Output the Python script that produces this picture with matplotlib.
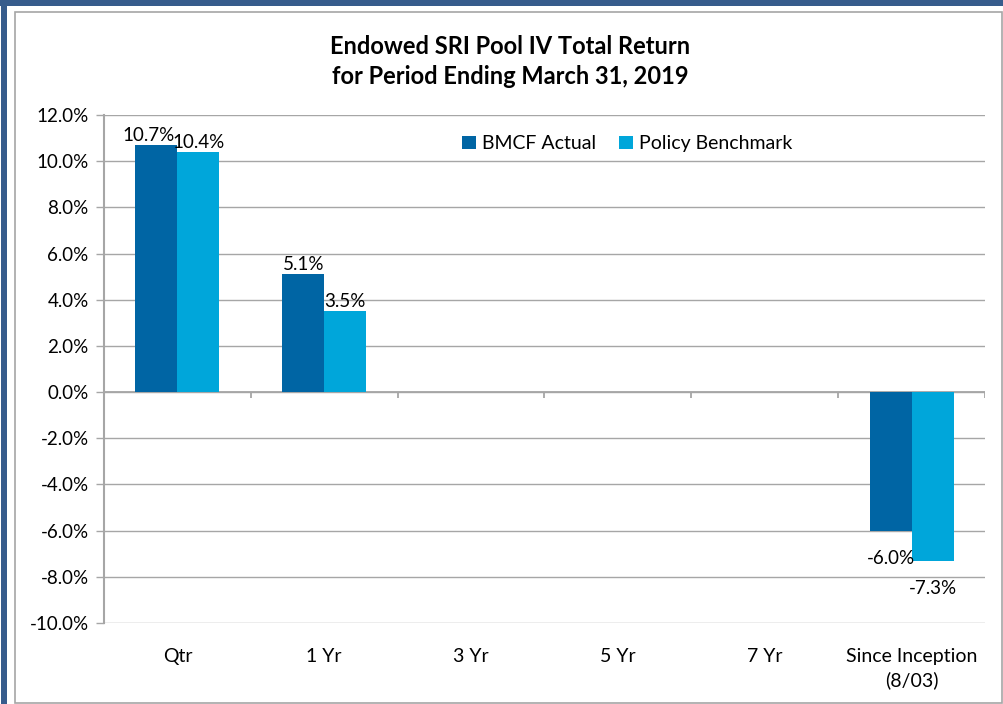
import matplotlib
matplotlib.use("Agg")
import matplotlib.pyplot as plt
from matplotlib.patches import Rectangle
import numpy as np

categories = ["Qtr", "1 Yr", "3 Yr", "5 Yr", "7 Yr", "Since Inception\n(8/03)"]
bmcf_actual = [10.7, 5.1, None, None, None, -6.0]
policy_benchmark = [10.4, 3.5, None, None, None, -7.3]
series_names = ["BMCF Actual", "Policy Benchmark"]
y_ticks = [-10, -8, -6, -4, -2, 0, 2, 4, 6, 8, 10, 12]

DARK = "#0065A4"
LIGHT = "#00A6DA"
GRID = "#A6A6A6"
FRAME = "#375C8C"

plt.rcParams["font.family"] = ["Lato", "DejaVu Sans"]

fig = plt.figure(figsize=(10.04, 7.04), dpi=100)
W, H = 1004, 704

# dark blue frame (top band + left band) and inner gray chart border
fig.patches.append(Rectangle((0, 1 - 6 / H), 1, 6 / H, transform=fig.transFigure,
                             facecolor=FRAME, edgecolor="none"))
fig.patches.append(Rectangle((1 / W, 0), 6 / W, 1, transform=fig.transFigure,
                             facecolor=FRAME, edgecolor="none"))
fig.patches.append(Rectangle((15 / W, 1 / H), 987 / W, 1 - 13 / H, transform=fig.transFigure,
                             fill=False, edgecolor=GRID, linewidth=1.2))

ax = fig.add_axes([104 / W, 81 / H, 881 / W, 508 / H])

x = np.arange(len(categories))
bw = 0.286
a_vals = np.array([np.nan if v is None else v for v in bmcf_actual])
b_vals = np.array([np.nan if v is None else v for v in policy_benchmark])
bars_a = ax.bar(x - bw / 2, a_vals, bw, color=DARK, label=series_names[0], zorder=3)
bars_b = ax.bar(x + bw / 2, b_vals, bw, color=LIGHT, label=series_names[1], zorder=3)

for i, (ra, rb) in enumerate(zip(bars_a, bars_b)):
    for j, (rect, v) in enumerate(((ra, a_vals[i]), (rb, b_vals[i]))):
        if np.isnan(v):
            continue
        cx = rect.get_x() + rect.get_width() / 2
        if v >= 0:
            # nudge the left label aside when both labels sit at the same height
            dx = -6 if (j == 0 and abs(a_vals[i] - b_vals[i]) < 1) else 0
            ax.annotate(f"{v:.1f}%", (cx, v), xytext=(dx, 1), textcoords="offset points",
                        ha="center", va="bottom", fontsize=13.5, zorder=4)
        else:
            ax.annotate(f"{v:.1f}%", (cx, v), xytext=(0, -14), textcoords="offset points",
                        ha="center", va="top", fontsize=13.5, zorder=4)

ax.set_xlim(-0.5, len(categories) - 0.5)
ax.set_ylim(-10, 12)
ax.set_yticks(y_ticks)
ax.set_yticklabels([f"{t:.1f}%" for t in y_ticks], fontsize=13.5)
ax.yaxis.grid(True, color=GRID, linewidth=1, zorder=0)
ax.set_axisbelow(True)

ax.set_xticks(x)
ax.set_xticklabels(categories, fontsize=14, linespacing=1.45)
ax.tick_params(axis="x", length=0, pad=18)
ax.tick_params(axis="y", length=6, color=GRID, width=1, pad=5)

for side in ("top", "right", "bottom"):
    ax.spines[side].set_visible(False)
ax.spines["left"].set_color(GRID)
ax.spines["left"].set_linewidth(1.5)

# category axis drawn at zero, with tick marks between categories
ax.axhline(0, color=GRID, linewidth=1.3, zorder=2)
ax.vlines(x + 0.5, -0.25, 0, color=GRID, linewidth=1.3, zorder=2)

ax.legend(loc="center", bbox_to_anchor=(0.594, 0.943), ncol=2, frameon=False,
          fontsize=14, handlelength=0.7, handleheight=0.7, handletextpad=0.3,
          columnspacing=1.2)

fig.text(0.508, 1 - 46 / H, "Endowed SRI Pool IV Total Return", ha="center", va="center",
         fontsize=17, fontweight="bold")
fig.text(0.508, 1 - 76 / H, "for Period Ending March 31, 2019", ha="center", va="center",
         fontsize=17, fontweight="bold")

fig.savefig("out.png", dpi=100)
